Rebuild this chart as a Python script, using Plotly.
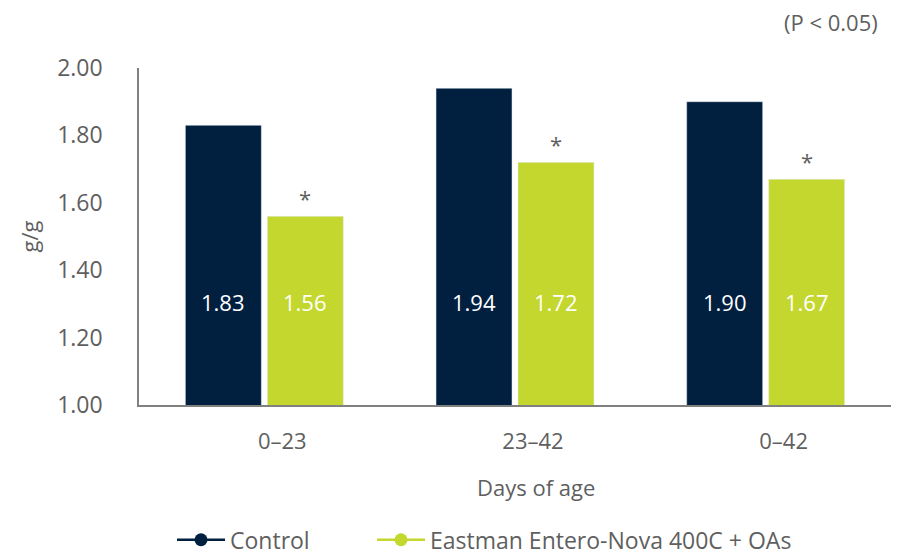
import plotly.graph_objects as go

categories = ["0–23", "23–42", "0–42"]
control = [1.83, 1.94, 1.90]
treatment = [1.56, 1.72, 1.67]
series_names = ["Control", "Eastman Entero-Nova 400C + OAs"]
colors = ["#01203F", "#C3D72F"]
label_y = 1.305
FONT = "Open Sans"
GRAY = "#5f5f5f"

fig = go.Figure()
for name, vals, col in zip(series_names, [control, treatment], colors):
    fig.add_trace(go.Bar(x=categories, y=vals, name=name, marker_color=col,
                         showlegend=False, hoverinfo="skip"))
# legend entries (line + marker style), each in its own legend box
for name, col, lg in zip(series_names, colors, ["legend", "legend2"]):
    fig.add_trace(go.Scatter(x=[None], y=[None], mode="lines+markers", name=name,
                             line=dict(color=col, width=2.5), legend=lg,
                             marker=dict(color=col, size=13)))

ann = []
for i, c in enumerate(categories):
    for vals, shift in ((control, -41), (treatment, 41)):
        ann.append(dict(x=c, y=label_y, xref="x", yref="y", xshift=shift,
                        text=f"{vals[i]:.2f}", showarrow=False,
                        font=dict(color="white", size=22, family=FONT)))
    ann.append(dict(x=c, y=treatment[i], xref="x", yref="y", xshift=41, yshift=1,
                    yanchor="bottom", text="*", showarrow=False,
                    font=dict(color=GRAY, size=22, family=FONT)))
ann.append(dict(x=(880 - 139) / 752, xanchor="right", xref="paper",
                y=1 + (67.5 - 21) / 337.5, yanchor="middle", yref="paper",
                text="(P < 0.05)", showarrow=False,
                font=dict(color=GRAY, size=22, family=FONT)))
ann.append(dict(x=(536 - 139) / 752, xref="paper", y=-(487 - 405) / 337.5,
                yref="paper", yanchor="middle", text="Days of age", showarrow=False,
                font=dict(color=GRAY, size=22, family=FONT)))

leg_common = dict(orientation="h", yanchor="middle", y=-(540 - 405) / 337.5,
                  xanchor="left", font=dict(size=23, color=GRAY, family=FONT),
                  itemwidth=48, bgcolor="rgba(0,0,0,0)")

fig.update_layout(
    width=898, height=557,
    margin=dict(l=139, r=7, t=67.5, b=152, autoexpand=False),
    paper_bgcolor="white", plot_bgcolor="white",
    barmode="group", bargap=0.346, bargroupgap=0.073,
    font=dict(family=FONT, color=GRAY, size=22),
    annotations=ann,
    legend=dict(x=(172 - 139) / 752, **leg_common),
    legend2=dict(x=(372 - 139) / 752, **leg_common),
    xaxis=dict(showline=True, linecolor="#808080", linewidth=1.5, showgrid=False,
               ticks="", tickfont=dict(size=22, color=GRAY), ticklabelstandoff=16,
               ticklabelshift=18),
    yaxis=dict(range=[1, 2], dtick=0.2, tickformat=".2f", showline=True,
               linecolor="#808080", linewidth=1.5, showgrid=False, zeroline=False,
               ticks="", ticklabelstandoff=30, tickfont=dict(size=23, color=GRAY),
               title=dict(text="g/g", font=dict(size=22, color=GRAY), standoff=12)),
)
fig.write_html("out.html")
